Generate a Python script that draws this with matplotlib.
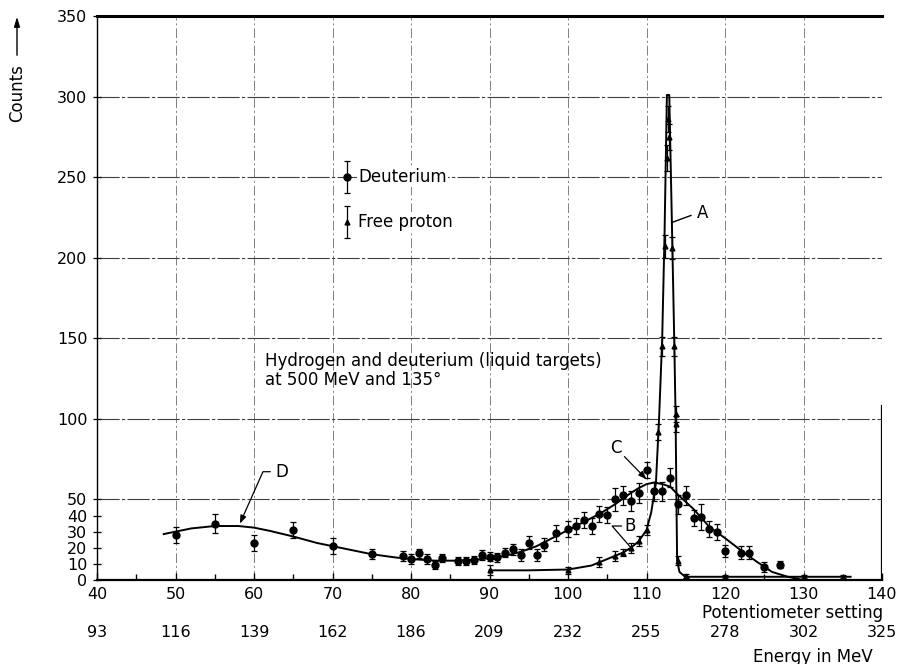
import matplotlib.pyplot as plt
from matplotlib.ticker import MultipleLocator

plt.rcParams['font.family'] = ['DejaVu Sans']
plt.rcParams['font.size'] = 11.5

# deuterium measured points (potentiometer setting, counts, error)
d_x = [50, 55, 60, 65, 70, 75,
       79, 80, 81, 82, 83, 84,
       86, 87, 88, 89, 90,
       91, 92, 93, 94, 95,
       96, 97, 98.5,
       100, 101, 102, 103, 104, 105, 106, 107, 108, 109,
       110, 111, 112, 113, 114, 115, 116, 117, 118, 119,
       120, 122, 123, 125, 127]
d_y = [28, 35, 23, 31, 21, 16,
       15, 13, 16.5, 13, 9.5, 13.5,
       12, 11.5, 12.5, 15.5, 14.5,
       14, 17, 19, 15.5, 23,
       15.5, 22, 29,
       31.5, 33.5, 37, 33.5, 41, 40.5, 50, 52.5, 49, 54,
       68, 55, 55, 63.5, 47, 52.5, 38.5, 39, 31.5, 30,
       18, 17, 17, 8, 9.5]
d_err = [5, 6, 5, 5, 5, 3,
         3, 3, 3, 3, 2.5, 2.5,
         2.5, 2.5, 2.5, 3, 3,
         3, 3, 3.5, 4, 4,
         4, 4, 5,
         5, 5, 5, 5, 5, 5, 7, 6, 6, 6,
         5, 6, 6, 6, 6, 6, 5, 8, 5, 5,
         4, 4, 4, 3, 2]

# free proton measured points
p_x = [90, 100, 104, 106, 107, 108, 109, 110, 111.5, 112, 112.3, 112.6,
       112.8, 112.9, 113.3, 113.5, 113.7, 113.8, 114, 115, 120, 130, 135]
p_y = [6, 6, 11, 15, 17, 20, 24, 31, 92, 145, 207, 262,
       286, 275, 206, 145, 103, 97, 12, 2.5, 2, 2, 2]
p_err = [3, 2, 3, 3, 2, 3, 3, 3, 5, 6, 7, 8,
         8, 8, 7, 6, 5, 5, 3, 1, 1, 1, 1]

# smooth curve through deuterium (D and C)
dc_x = [48.5, 50, 52, 55, 58, 60, 62, 65, 68, 70,
        72, 75, 78, 80, 83, 86, 88, 90, 92, 94,
        96, 98, 100, 102, 104, 106, 108, 109, 110, 111,
        112, 113, 114, 115, 116, 118, 120, 122, 124, 126,
        128, 129.5]
dc_y = [28.5, 30, 32, 33.5, 33.5, 32.5, 30.5, 27, 23, 21,
        19, 16, 14, 13, 12, 12, 12.5, 13.5, 15, 17.5,
        21, 26, 31, 36, 41, 47, 54, 57, 59.5, 60.5,
        59.5, 58, 53, 48.5, 44, 33, 26, 18.5, 11.5, 5,
        2, 0.5]

# free proton curve (B and A)
pc_x = [90, 95, 100, 103, 105, 107, 108, 109, 110, 110.6, 111.2, 111.6,
        112.0, 112.3, 112.6, 112.9, 113.25, 113.55, 113.7, 113.9, 114.2,
        114.8, 115, 120, 130, 136]
pc_y = [6, 6, 6.5, 9, 13, 17, 20, 24, 31, 42, 60, 100,
        150, 215, 301, 301, 218, 145, 103, 12, 5,
        2.5, 2, 2, 2, 2]

pot_ticks = [40, 50, 60, 70, 80, 90, 100, 110, 120, 130, 140]
energy_labels = ['93', '116', '139', '162', '186', '209', '232', '255',
                 '278', '302', '325']
count_ticks = [0, 10, 20, 30, 40, 50, 100, 150, 200, 250, 300, 350]
grid_x = [50, 60, 70, 80, 90, 100, 110, 120, 130]
grid_y = [50, 100, 150, 200, 250, 300]

fig = plt.figure(figsize=(9.08, 6.64), dpi=100)
ax = fig.add_axes([97/908, 84/664, 785/908, 564/664])
ax.set_xlim(40, 140)
ax.set_ylim(0, 350)

for gx in grid_x:
    ax.axvline(gx, color='0.5', lw=0.7, ls=(0, (10, 3, 2, 3)), zorder=0)
for gy in grid_y:
    ax.axhline(gy, color='0.25', lw=0.8, ls=(0, (20, 2, 3, 2)), zorder=0)
ax.axvline(140, ymax=108/350, color='black', lw=1.6)

ax.plot(dc_x, dc_y, color='black', lw=1.4)
ax.plot(pc_x, pc_y, color='black', lw=1.4)
ax.errorbar(d_x, d_y, yerr=d_err, fmt='o', ms=5, color='black',
            elinewidth=0.9, capsize=2.2, capthick=0.9)
ax.errorbar(p_x, p_y, yerr=p_err, fmt='^', ms=3.5, color='black',
            elinewidth=0.9, capsize=2.2, capthick=0.9)

# legend
ax.errorbar([71.9], [250], yerr=[10], fmt='o', ms=5, color='black',
            elinewidth=0.9, capsize=2.2, capthick=0.9)
ax.errorbar([71.9], [222], yerr=[10], fmt='^', ms=3.5, color='black',
            elinewidth=0.9, capsize=2.2, capthick=0.9)
ax.text(73.3, 250, 'Deuterium', va='center', fontsize=12,
        bbox=dict(fc='white', ec='none', pad=1))
ax.text(73.3, 222, 'Free proton', va='center', fontsize=12,
        bbox=dict(fc='white', ec='none', pad=1))

ax.text(61.4, 130, 'Hydrogen and deuterium (liquid targets)\nat 500 MeV and 135\u00b0',
        va='center', fontsize=12, linespacing=1.1)

# curve labels
ax.annotate('A', xy=(113.3, 222), xytext=(117.1, 227.5), ha='center', va='center',
            fontsize=12, arrowprops=dict(arrowstyle='-', color='black', lw=1,
                                         relpos=(0, 0.5), shrinkA=2, shrinkB=0))
ax.annotate('B', xy=(108.1, 19.6), xytext=(107.9, 33.5), ha='center', va='center',
            fontsize=12, arrowprops=dict(arrowstyle='-', color='black', lw=0.9,
                                         relpos=(0, 0.5), shrinkA=0, shrinkB=0,
                                         connectionstyle='angle,angleA=180,angleB=131,rad=0'))
ax.annotate('C', xy=(110, 62.5), xytext=(106.1, 81.7), ha='center', va='center',
            fontsize=12, arrowprops=dict(arrowstyle='-|>,head_length=0.4,head_width=0.15',
                                         color='black', lw=0.9, relpos=(1, 0.2),
                                         shrinkA=0, shrinkB=0))
ax.annotate('D', xy=(58.2, 35), xytext=(63.6, 67.2), ha='center', va='center',
            fontsize=12, arrowprops=dict(arrowstyle='-|>,head_length=0.4,head_width=0.15',
                                         color='black', lw=0.9, relpos=(0, 0.5),
                                         shrinkA=2, shrinkB=0,
                                         connectionstyle='angle,angleA=180,angleB=66,rad=0'))

ax.set_xticks(pot_ticks)
ax.xaxis.set_minor_locator(MultipleLocator(5))
ax.set_yticks(count_ticks)
ax.tick_params(axis='x', which='major', direction='in', length=5, width=1, pad=5,
               labelsize=11.5)
ax.tick_params(axis='x', which='minor', direction='in', length=4, width=1)
ax.tick_params(axis='y', direction='inout', length=6, width=0.9, pad=4, labelsize=11.5)

ax.spines['right'].set_visible(False)
ax.spines['top'].set_linewidth(2.2)
ax.spines['bottom'].set_linewidth(1.6)
ax.spines['left'].set_linewidth(1.0)

tr = ax.get_xaxis_transform()
for xv, lab in zip(pot_ticks, energy_labels):
    ax.text(xv, -0.093, lab, transform=tr, ha='center', va='center', fontsize=11.5)
ax.text(140.2, -0.058, 'Potentiometer setting', transform=tr, ha='right',
        va='center', fontsize=12)
ax.text(138.8, -0.136, 'Energy in MeV', transform=tr, ha='right',
        va='center', fontsize=12)

fig.text(17/908, 1 - 93/664, 'Counts', rotation=90, ha='center', va='center',
         fontsize=12)
ax.annotate('', xy=(17/908, 1 - 14/664), xycoords='figure fraction',
            xytext=(17/908, 1 - 58/664), textcoords='figure fraction',
            arrowprops=dict(arrowstyle='-|>,head_length=0.5,head_width=0.15',
                            color='black', lw=1))

fig.savefig('out.png', dpi=100)
